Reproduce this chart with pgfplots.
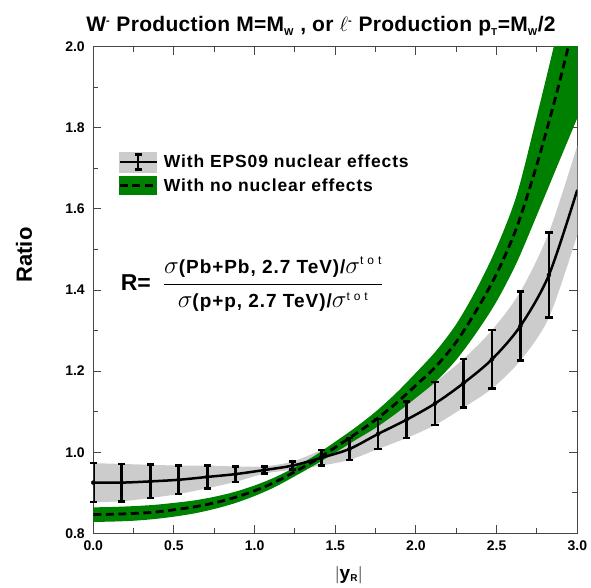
\documentclass[border=0pt]{standalone}
\usepackage{fontspec}
\setmainfont{Liberation Sans}
\setsansfont{Liberation Sans}
\newfontfamily\legfont[LetterSpace=5]{Liberation Sans}
\newfontfamily\fracfont[LetterSpace=5]{Liberation Sans}
\newfontfamily\titlefont[LetterSpace=1.5]{Liberation Sans}
\usepackage{amsmath}
\usepackage{pgfplots}
\usepackage{pgfplotstable}
\pgfplotsset{compat=1.18}
\usepgfplotslibrary{fillbetween}
\definecolor{bandgreen}{RGB}{0,128,0}
\definecolor{bandgrey}{RGB}{204,204,204}
\definecolor{axgrey}{RGB}{70,70,70}

\pgfplotstableread{
x     y     e     lo    hi
0.000 0.925 0.048 0.877 0.973
0.176 0.925 0.046 0.879 0.971
0.353 0.928 0.041 0.887 0.969
0.529 0.932 0.035 0.897 0.967
0.706 0.939 0.028 0.911 0.967
0.882 0.946 0.019 0.927 0.965
1.059 0.956 0.009 0.947 0.965
1.235 0.967 0.010 0.957 0.977
1.412 0.986 0.019 0.967 1.005
1.588 1.008 0.027 0.981 1.035
1.765 1.045 0.037 1.008 1.082
1.941 1.080 0.045 1.035 1.125
2.118 1.120 0.053 1.067 1.173
2.294 1.170 0.060 1.110 1.230
2.471 1.229 0.072 1.157 1.301
2.647 1.311 0.085 1.226 1.396
2.824 1.437 0.105 1.332 1.542
}\epsbars

\pgfplotstableread{
x     y     lo    hi
0.000 0.925 0.877 0.973
0.176 0.925 0.879 0.971
0.353 0.928 0.887 0.969
0.529 0.932 0.897 0.967
0.706 0.939 0.911 0.967
0.882 0.946 0.927 0.965
1.059 0.956 0.947 0.965
1.235 0.967 0.957 0.977
1.412 0.986 0.967 1.005
1.588 1.008 0.981 1.035
1.765 1.045 1.008 1.082
1.941 1.080 1.035 1.125
2.118 1.120 1.067 1.173
2.294 1.170 1.110 1.230
2.471 1.229 1.157 1.301
2.647 1.311 1.226 1.396
2.824 1.437 1.332 1.542
3.000 1.647 1.536 1.756
}\epscurve

\pgfplotstableread{
x     y     lo    hi
0.000 0.846 0.828 0.864
0.125 0.847 0.829 0.865
0.250 0.849 0.831 0.867
0.375 0.852 0.835 0.870
0.500 0.858 0.841 0.875
0.625 0.865 0.849 0.881
0.750 0.875 0.860 0.890
0.875 0.888 0.874 0.902
1.000 0.905 0.892 0.918
1.125 0.926 0.914 0.938
1.250 0.952 0.941 0.963
1.375 0.980 0.969 0.992
1.500 1.012 0.999 1.026
1.625 1.045 1.030 1.061
1.750 1.080 1.060 1.100
1.875 1.120 1.095 1.145
2.000 1.165 1.134 1.196
2.125 1.212 1.175 1.250
2.250 1.272 1.228 1.316
2.375 1.350 1.295 1.402
2.500 1.440 1.372 1.505
2.625 1.555 1.468 1.635
2.750 1.710 1.585 1.830
2.875 1.890 1.705 2.035
3.000 2.090 1.824 2.250
}\nonuc

\begin{document}
\begin{tikzpicture}
\begin{axis}[
  at={(0pt,0pt)}, anchor=south west,
  scale only axis, width=484pt, height=486.6pt,
  xmin=0, xmax=3, ymin=0.8, ymax=2.0,
  xtick={0,0.5,...,3}, minor x tick num=1,
  ytick={0.8,1.0,...,2.0}, minor y tick num=1,
  tick align=inside,
  major tick length=8pt, minor tick length=5pt,
  axis line style={axgrey, line width=1.1pt},
  every tick/.style={axgrey, line width=1pt},
  /pgf/number format/assume math mode=true,
  xticklabel={\pgfmathprintnumber[fixed,fixed zerofill,precision=1]{\tick}},
  yticklabel={\pgfmathprintnumber[fixed,fixed zerofill,precision=1]{\tick}},
  ticklabel style={font=\sffamily\bfseries\fontsize{14}{16}\selectfont},
  xticklabel style={yshift=-4pt},
  yticklabel style={xshift=-5pt},
  xlabel={$|$y$_{\text{\fontsize{10}{10}\selectfont R}}|$},
  xlabel style={font=\sffamily\bfseries\fontsize{19}{21}\selectfont, at={(axis description cs:0.528,0)}, anchor=base, yshift=-45.7pt},
  ylabel={Ratio},
  ylabel style={font=\sffamily\bfseries\fontsize{22}{25}\selectfont, at={(axis description cs:-0.143,0.572)}, anchor=center},
  legend style={at={(axis description cs:0.051,0.784)}, anchor=north west, draw=none, fill=none,
    font=\legfont\bfseries\fontsize{17.5}{19}\selectfont, row sep=4pt, inner sep=0pt,
    nodes={inner sep=1pt}},
  legend cell align=left,
]
% grey band
\addplot[draw=none, smooth, name path=gu, forget plot] table[x=x, y=hi] {\epscurve};
\addplot[draw=none, smooth, name path=gl, forget plot] table[x=x, y=lo] {\epscurve};
\addplot[bandgrey, forget plot] fill between[of=gu and gl];
% green band
\addplot[draw=none, smooth, name path=nu, forget plot] table[x=x, y=hi] {\nonuc};
\addplot[draw=none, smooth, name path=nl, forget plot] table[x=x, y=lo] {\nonuc};
\addplot[bandgreen, forget plot] fill between[of=nu and nl];
% dashed central
\addplot[black, line width=2.8pt, dash pattern=on 8pt off 4.5pt, smooth, forget plot] table[x=x, y=y] {\nonuc};
% black central
\addplot[black, line width=2.5pt, smooth, forget plot] table[x=x, y=y] {\epscurve};
% error bars
\addplot[black, only marks, mark=none, forget plot,
  error bars/.cd, y dir=both, y explicit,
  error bar style={black, line width=2.8pt},
  error mark=none]
  table[x=x, y=y, y error=e] {\epsbars};
% caps
\addplot[black, only marks, mark=-, mark size=3.6pt, mark options={line width=2.6pt}, forget plot]
  table[x=x, y=hi] {\epsbars};
\addplot[black, only marks, mark=-, mark size=3.6pt, mark options={line width=2.6pt}, forget plot]
  table[x=x, y=lo] {\epsbars};

\addlegendimage{legend image code/.code={
  \fill[bandgrey] (0pt,-10pt) rectangle (37pt,10pt);
  \draw[black, line width=2.5pt] (0pt,0pt) -- (37pt,0pt);
  \draw[black, line width=2.5pt] (18.5pt,-7.5pt) -- (18.5pt,7.5pt);
  \draw[black, line width=2.5pt] (15pt,7.5pt) -- (22pt,7.5pt);
  \draw[black, line width=2.5pt] (15pt,-7.5pt) -- (22pt,-7.5pt);
}}
\addlegendentry{\hspace{5pt}With EPS09 nuclear effects}
\addlegendimage{legend image code/.code={
  \fill[bandgreen] (0pt,-9pt) rectangle (37pt,9pt);
  \draw[black, line width=2.8pt, dash pattern=on 8pt off 4.5pt] (0pt,0pt) -- (37pt,0pt);
}}
\addlegendentry{\hspace{5pt}With no nuclear effects}

\node[anchor=west, inner sep=0pt]
  at (axis description cs:0.0566,0.512)
  {\sffamily\bfseries\fontsize{23}{25}\selectfont R=\hspace{12pt}$\dfrac{\sigma\text{\fracfont\bfseries\fontsize{19}{21}\selectfont(Pb+Pb, 2.7 TeV)/}\sigma^{\text{\fracfont\mdseries\fontsize{12}{12}\selectfont t o t}}}
              {\sigma\text{\fracfont\bfseries\fontsize{19}{21}\selectfont(p+p, 2.7 TeV)/}\sigma^{\text{\fracfont\mdseries\fontsize{12}{12}\selectfont t o t}}}$};
\end{axis}
\node[font=\titlefont\bfseries\fontsize{21}{24}\selectfont, anchor=base] at (227.7pt,501.3pt)
  {W$^{\text{\fontsize{11}{11}\selectfont -}}$ Production M=M$_{\text{\fontsize{10}{10}\selectfont W}}$ , or $\ell^{\text{\fontsize{11}{11}\selectfont -}}$ Production p$_{\text{\fontsize{10}{10}\selectfont T}}$=M$_{\text{\fontsize{10}{10}\selectfont W}}$/2};
\path (-93.3pt,-53.7pt) rectangle (497.7pt,533.3pt);
\end{tikzpicture}
\end{document}
